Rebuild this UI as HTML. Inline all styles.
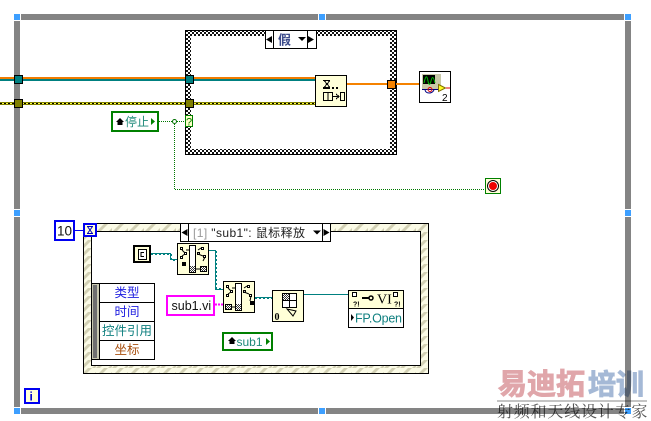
<!DOCTYPE html>
<html><head><meta charset="utf-8"><style>
html,body{margin:0;padding:0;background:#fff;width:651px;height:421px;overflow:hidden}
svg{display:block}
text{font-family:"Liberation Sans","Noto Sans CJK SC",sans-serif}
</style></head><body>
<svg width="651" height="421" viewBox="0 0 651 421" xmlns="http://www.w3.org/2000/svg">
<defs>
<pattern id="chk2" width="4" height="4" patternUnits="userSpaceOnUse"><rect width="4" height="4" fill="#fff"/><rect width="2" height="2" fill="#111"/><rect x="2" y="2" width="2" height="2" fill="#111"/></pattern>
<pattern id="chk" width="2" height="2" patternUnits="userSpaceOnUse"><rect width="2" height="2" fill="#fff"/><rect width="1" height="1" fill="#333"/><rect x="1" y="1" width="1" height="1" fill="#333"/></pattern>
<pattern id="dot" width="2" height="2" patternUnits="userSpaceOnUse"><rect width="1" height="1" fill="#007800"/><rect x="1" y="1" width="1" height="1" fill="#007800"/></pattern>
<pattern id="yw" width="4" height="1" patternUnits="userSpaceOnUse"><rect width="4" height="1" fill="#ffff40"/><rect width="2" height="1" fill="#000"/></pattern>
<pattern id="str" width="16" height="8" patternUnits="userSpaceOnUse"><rect width="16" height="8" fill="#fbfbe6"/><path d="M0 8L8 0h4L4 8zM16 4l-4 4h3l1-1z" fill="#d2d0b4"/></pattern>
</defs>
<g shape-rendering="crispEdges">
<!-- outer while loop -->
<rect x="14" y="14" width="617" height="6" fill="#848484"/>
<rect x="14" y="408" width="617" height="6" fill="#848484"/>
<rect x="14" y="14" width="6" height="400" fill="#848484"/>
<rect x="625" y="14" width="6" height="400" fill="#848484"/>
<g fill="#fff">
<rect x="13" y="13" width="8" height="8"/><rect x="624" y="13" width="8" height="8"/><rect x="13" y="407" width="8" height="8"/><rect x="624" y="407" width="8" height="8"/>
<rect x="318" y="13" width="8" height="8"/><rect x="318" y="407" width="8" height="8"/><rect x="13" y="209" width="8" height="8"/><rect x="624" y="209" width="8" height="8"/>
</g>
<g fill="#3d9fff">
<rect x="14" y="14" width="6" height="6"/><rect x="625" y="14" width="6" height="6"/><rect x="14" y="408" width="6" height="6"/><rect x="625" y="408" width="6" height="6"/>
<rect x="319" y="14" width="6" height="6"/><rect x="319" y="408" width="6" height="6"/><rect x="14" y="210" width="6" height="6"/><rect x="625" y="210" width="6" height="6"/>
</g>
<!-- case structure -->
<rect x="185" y="30" width="212" height="125" fill="#000"/>
<rect x="186" y="31" width="210" height="123" fill="url(#chk2)"/>
<rect x="191" y="36" width="199" height="113" fill="#fff"/>
<!-- wires top -->
<rect x="0" y="77" width="315" height="2" fill="#f07c00"/>
<rect x="0" y="79" width="315" height="2" fill="#008080"/>
<rect x="0" y="102" width="315" height="1" fill="#808000"/>
<rect x="0" y="103" width="315" height="1" fill="url(#yw)"/>
<rect x="0" y="104" width="315" height="1" fill="#808000"/>
<!-- selector -->
<rect x="265" y="30" width="52" height="19" fill="#000"/>
<rect x="266" y="31" width="50" height="17" fill="#fff"/>
<rect x="273" y="30" width="1" height="19" fill="#000"/><rect x="307" y="30" width="1" height="19" fill="#000"/>
</g>
<path d="M266 39.500l6-3.500v7zM314 39.500l-6-3.500v7z" fill="#000"/>
<path d="M298 37h8l-4 4z" fill="#000"/>
<text x="278" y="44.500" font-size="13" fill="#3a4a8a" font-weight="bold">假</text>
<g shape-rendering="crispEdges">
<!-- tunnels -->
<rect x="14.500" y="75.500" width="8" height="8" fill="#008080" stroke="#000"/>
<rect x="14.500" y="99.500" width="8" height="8" fill="#808000" stroke="#000"/>
<rect x="185.500" y="75.500" width="8" height="8" fill="#008080" stroke="#000"/>
<rect x="185.500" y="99.500" width="8" height="8" fill="#808000" stroke="#000"/>
<rect x="185.500" y="115.500" width="7" height="11" fill="#ffffc8" stroke="#008000"/>
<!-- orange out -->
<rect x="347" y="83" width="72" height="2" fill="#f58200"/>
<rect x="387.500" y="80.500" width="8" height="8" fill="#f58200" stroke="#000"/>
<!-- select node -->
<rect x="315.500" y="75.500" width="31" height="31" fill="#ffffd8" stroke="#000"/>
<!-- express -->
<rect x="419.500" y="71.500" width="31" height="31" fill="#fff" stroke="#000"/>
<rect x="422" y="74" width="19" height="15" fill="#c8c8a8"/>
<rect x="423" y="75" width="12" height="9" fill="#000"/>
<rect x="422" y="89" width="18" height="1" fill="#000080"/>
<rect x="323" y="80" width="7" height="1" fill="#000"/><rect x="323" y="87" width="7" height="2" fill="#000"/>
<rect x="332" y="87" width="2" height="2" fill="#000"/><rect x="336" y="87" width="2" height="2" fill="#000"/>
</g>
<path d="M424 83c2-9 3-7 4-2s2 4 3 0 2-6 4 2" fill="none" stroke="#00c000"/>
<path d="M425 90c1 4 7 4 9 0" fill="none" stroke="#000080"/>
<circle cx="430" cy="89.500" r="2" fill="none" stroke="#e00000"/>
<path d="M438.500 84.500l7 3.500-7 3.500z" fill="#ffff20" stroke="#807000"/>
<line x1="446" y1="88" x2="450" y2="88" stroke="#e00000"/>
<text x="442" y="101" font-size="10" fill="#000">2</text>
<g fill="none" stroke="#000" shape-rendering="crispEdges">
<path d="M324.500 81l5 6M329.500 81l-5 6"/>
<rect x="323.500" y="92.500" width="9" height="8"/><line x1="328" y1="92" x2="328" y2="101"/>
<path d="M333 96.500h5M336 94l3 2.500-3 2.500"/><rect x="340.500" y="92.500" width="4" height="8"/>
</g>
<!-- stop wire -->
<g fill="url(#dot)" shape-rendering="crispEdges">
<rect x="159" y="121" width="26" height="1"/>
<rect x="174" y="122" width="1" height="68"/>
<rect x="175" y="189" width="310" height="1"/>
<rect x="273" y="341" width="60" height="1"/>
<rect x="333" y="317" width="1" height="25"/>
<rect x="334" y="317" width="14" height="1"/>
</g>
<circle cx="174.500" cy="121.500" r="2" fill="#fff" stroke="#007000"/>
<g shape-rendering="crispEdges">
<rect x="112" y="112" width="46" height="19" fill="#fff" stroke="#008000" stroke-width="2"/>
<rect x="485.500" y="178.500" width="15" height="15" fill="#ffffd8" stroke="#008000"/>
</g>
<path d="M116 122l4-4 4 4h-1.500v3h-5v-3z" fill="#000"/>
<text x="125" y="126" font-size="12" fill="#1f8a7a">停止</text>
<path d="M151 118l4 3.500-4 3.500z" fill="#008000"/>
<circle cx="493" cy="186" r="5.500" fill="#fff" stroke="#000"/>
<circle cx="493" cy="186" r="4" fill="#f00000"/>
<text x="186" y="125.500" font-size="11" fill="#008000">?</text>
<!-- event structure -->
<g shape-rendering="crispEdges">
<rect x="83.500" y="223.500" width="345" height="150" fill="url(#str)" stroke="#000"/>
<rect x="91.500" y="231.500" width="329" height="134" fill="#fff" stroke="#000"/>
<rect x="180.500" y="223.500" width="150" height="18" fill="#fff" stroke="#000"/>
<rect x="188" y="223" width="1" height="18" fill="#000"/><rect x="322" y="223" width="1" height="18" fill="#000"/>
<!-- timeout -->
<rect x="55" y="221" width="19" height="19" fill="#fff" stroke="#0000f0" stroke-width="2"/>
<rect x="75" y="230" width="9" height="1" fill="#0000f0"/>
<rect x="84" y="224" width="12" height="12" fill="#ffffd8" stroke="#0000f0" stroke-width="2"/>
</g>
<path d="M181.500 232.500l6-3.500v7zM329.500 232.500l-6-3.500v7z" fill="#000"/>
<path d="M313 230.500h8l-4 4z" fill="#000"/>
<text x="193" y="237" font-size="12" textLength="112"><tspan fill="#999">[1]</tspan><tspan fill="#222"> "sub1": 鼠标释放</tspan></text>
<text x="57" y="235.500" font-size="13.500" fill="#111">10</text>
<path d="M87 226.500h6M87 233.500h6M87.500 226.500l5 7M92.500 226.500l-5 7" fill="none" stroke="#0000c0"/>
<!-- event data node -->
<g shape-rendering="crispEdges">
<rect x="91.500" y="283.500" width="63" height="76" fill="#fff" stroke="#000"/>
<rect x="92" y="284" width="7" height="75" fill="#c8c8b0"/>
<rect x="93" y="285" width="4" height="73" fill="#707070"/>
<rect x="99" y="283" width="1" height="76" fill="#000"/>
<rect x="99" y="302" width="55" height="1" fill="#000"/>
<rect x="99" y="321" width="55" height="1" fill="#000"/>
<rect x="99" y="340" width="55" height="1" fill="#000"/>
</g>
<g font-size="12.500" text-anchor="middle">
<text x="127" y="297" fill="#2020e0">类型</text>
<text x="127" y="316" fill="#2020e0">时间</text>
<text x="127" y="335" fill="#108080">控件引用</text>
<text x="127" y="354" fill="#a85010">坐标</text>
</g>
<!-- refnum const -->
<g shape-rendering="crispEdges">
<rect x="134" y="246" width="16" height="16" fill="#ffffd8" stroke="#000" stroke-width="2"/>
<rect x="138.500" y="249.500" width="8" height="10" fill="#fff" stroke="#000"/>
</g>
<path d="M144 252.500h-3v4h3" fill="none" stroke="#000"/>
<!-- teal wires bottom -->
<g fill="none" stroke="#008080" shape-rendering="crispEdges">
<path d="M151 253.500H170.500V259.500H177" stroke-width="1"/>
<path d="M209 250.500H215.500V289.500H223" stroke-width="1"/>
<path d="M255 297.500H272" stroke-width="1"/>
<path d="M151 254.500H169.500" stroke-dasharray="2 2"/>
<path d="M171.500 254V260.500H177" stroke-dasharray="2 2"/>
<path d="M216.500 251V288.500H223" stroke-dasharray="2 2"/>
<path d="M255 298.500H272" stroke-dasharray="2 2"/>
<path d="M304 294.500H348"/>
</g>
<path d="M215 304.500h8" stroke="#ff00ff" stroke-dasharray="2 1" stroke-width="2" shape-rendering="crispEdges"/>
<!-- bundle nodes -->
<g shape-rendering="crispEdges">
<rect x="177.500" y="243.500" width="31" height="31" fill="#ffffd8" stroke="#000"/>
<rect x="223.500" y="281.500" width="31" height="31" fill="#ffffd8" stroke="#000"/>
<rect x="272.500" y="290.500" width="31" height="31" fill="#ffffd8" stroke="#000"/>
<rect x="189.500" y="245.500" width="6" height="27" fill="#fff" stroke="#000"/>
<rect x="235.500" y="283.500" width="6" height="27" fill="#fff" stroke="#000"/>
<rect x="190" y="266" width="5" height="6" fill="url(#chk)"/>
<rect x="236" y="304" width="5" height="6" fill="url(#chk)"/>
<rect x="200.500" y="266.500" width="6" height="5" fill="url(#chk)" stroke="#000"/>
<rect x="225.500" y="304.500" width="6" height="5" fill="url(#chk)" stroke="#000"/>
<rect x="182" y="262" width="4" height="4" fill="#000"/>
<rect x="250" y="301" width="4" height="4" fill="#000"/>
<!-- small tree nodes -->
<g fill="#fff" stroke="#000">
<rect x="180.500" y="247.500" width="2" height="2"/><rect x="180.500" y="256.500" width="2" height="2"/><rect x="184.500" y="252.500" width="2" height="2"/>
<rect x="201.500" y="247.500" width="2" height="2"/><rect x="197.500" y="252.500" width="2" height="2"/><rect x="203.500" y="255.500" width="2" height="2"/>
<rect x="226.500" y="285.500" width="2" height="2"/><rect x="226.500" y="294.500" width="2" height="2"/><rect x="230.500" y="290.500" width="2" height="2"/>
<rect x="247.500" y="285.500" width="2" height="2"/><rect x="243.500" y="290.500" width="2" height="2"/><rect x="249.500" y="294.500" width="2" height="2"/>
</g>
<!-- matrix -->
<rect x="282.500" y="293.500" width="14" height="14" fill="#fff" stroke="#000"/>
<rect x="283" y="294" width="6" height="6" fill="url(#chk)"/>
<rect x="289" y="293" width="1" height="15" fill="#000"/><rect x="282" y="300" width="15" height="1" fill="#000"/>
</g>
<g fill="none" stroke="#000">
<path d="M182 250l3 3M182 256l3-2M186 250h3M198 250l3-2M198 254l5 2M205 257l-2 4M196 269h4"/>
<path d="M228 288l3 3M228 294l3-2M232 288h3M244 288l3-2M244 292l5 2M251 296l-1 5M232 307h4"/>
<path d="M287 309l9 2-3 5z"/>
</g>
<text x="274.500" y="320" font-size="10" font-weight="bold" fill="#000" style="font-family:'Liberation Serif',serif">0</text>
<!-- sub1.vi -->
<g shape-rendering="crispEdges">
<rect x="167" y="296" width="47" height="19" fill="#fff" stroke="#ff00ff" stroke-width="2"/>
<rect x="223" y="333" width="49" height="17" fill="#fff" stroke="#008000" stroke-width="2"/>
<!-- property node -->
<rect x="348.500" y="290.500" width="55" height="37" fill="#fff" stroke="#000"/>
<rect x="349" y="291" width="54" height="17" fill="#ffffd8"/>
<rect x="348" y="308" width="56" height="1" fill="#000"/>
<rect x="352.500" y="292.500" width="4" height="4" fill="#fff" stroke="#000"/>
<rect x="393.500" y="292.500" width="4" height="4" fill="#fff" stroke="#000"/>
<rect x="362" y="297" width="7" height="2" fill="#000"/>
<!-- i -->
<rect x="25" y="389" width="14" height="14" fill="#ffffd8" stroke="#0000f0" stroke-width="2"/>
</g>
<text x="171.500" y="310" font-size="12.500" fill="#111">sub1.vi</text>
<path d="M228 341l4-4 4 4h-1.500v3h-5v-3z" fill="#000"/>
<text x="236.500" y="346" font-size="12" fill="#1f8a7a">sub1</text>
<path d="M266 338l4 3.500-4 3.500z" fill="#008000"/>
<circle cx="371" cy="298" r="2" fill="none" stroke="#000" stroke-width="1.500"/>
<text x="377" y="303.500" font-size="14" fill="#000" style="font-family:'Liberation Serif',serif">VI</text>
<text x="353" y="306.500" font-size="7" font-weight="bold" fill="#000">?!</text>
<text x="394" y="306.500" font-size="7" font-weight="bold" fill="#000">?!</text>
<path d="M351 314l3 3.500-3 3.500z" fill="#000"/>
<text x="355" y="322.500" font-size="12.500" fill="#108080" textLength="47">FP.Open</text>
<text x="29.500" y="400.500" font-size="12" font-weight="bold" fill="#0000d0">i</text>
<!-- watermark -->
<g style="mix-blend-mode:multiply">
<text x="498" y="394" font-size="29" font-weight="bold" fill="#e0a6aa" stroke="#e0a6aa" stroke-width="1" style="font-family:'Noto Sans CJK SC',sans-serif">易迪拓</text>
<text x="588" y="394" font-size="28" font-weight="bold" fill="#a5b9d6" stroke="#a5b9d6" stroke-width="1" style="font-family:'Noto Sans CJK SC',sans-serif">培训</text>
<rect x="497" y="400" width="150" height="2" fill="#c4c4c4"/>
<text x="497" y="417" font-size="16" fill="#555" style="letter-spacing:.8px;font-family:'Noto Serif CJK SC',serif">射频和天线设计专家</text>
</g>
</svg>
</body></html>
